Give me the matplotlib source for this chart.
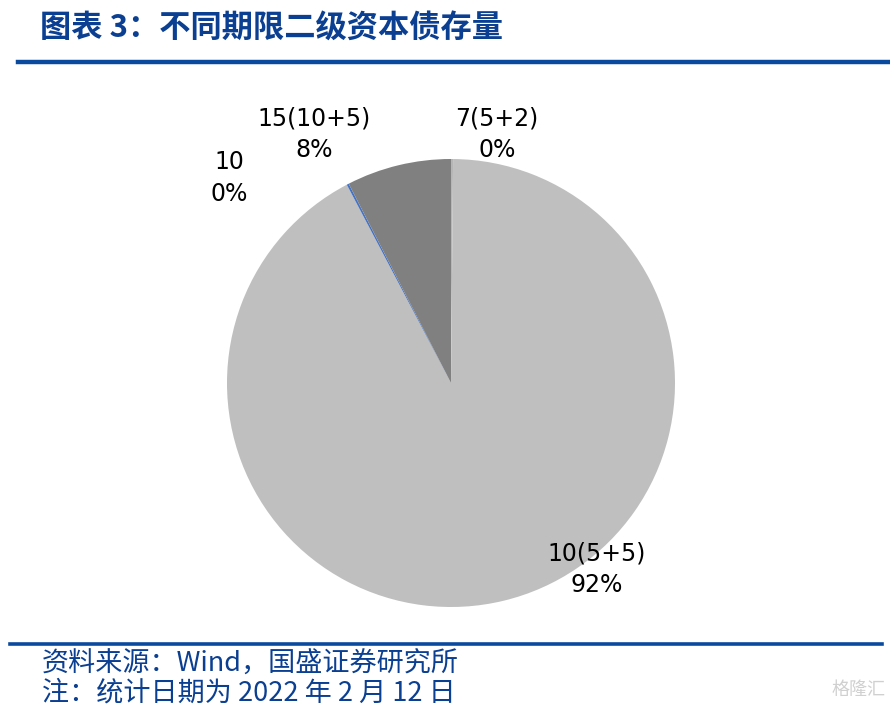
import matplotlib.pyplot as plt
import numpy as np

plt.rcParams['font.family'] = ['Noto Sans CJK SC', 'DejaVu Sans']

# data (share of outstanding tier-2 capital bonds by term)
labels = ["7(5+2)", "10(5+5)", "10", "15(10+5)"]
values = [0.15, 92.15, 0.15, 7.55]
pct_text = ["0%", "92%", "0%", "8%"]
colors = ["#B5B5B5", "#BFBFBF", "#4472C4", "#808080"]

# where each label sits (pie radius = 1)
label_xy = [(0.205, 1.11), (0.652, -0.83), (-0.99, 0.915), (-0.61, 1.11)]

title = "图表 3：不同期限二级资本债存量"
source = "资料来源：Wind，国盛证券研究所"
note = "注：统计日期为 2022 年 2 月 12 日"

blue = "#0B3F91"

fig = plt.figure(figsize=(8.9, 7.09), dpi=100)

# pie axes: centre at (451, 383) px, radius 224 px
W, H = 890, 709
lim = 1.3
side = 2 * lim * 224
cx, cy = 451, 383
ax = fig.add_axes([(cx - side / 2) / W, (H - cy - side / 2) / H, side / W, side / H])
ax.pie(values, colors=colors, startangle=90, counterclock=False,
       wedgeprops=dict(linewidth=0))
ax.set_xlim(-lim, lim)
ax.set_ylim(-lim, lim)
ax.set_aspect("equal")
ax.axis("off")

for lab, pct, (x, y) in zip(labels, pct_text, label_xy):
    ax.text(x, y, f"{lab}\n{pct}", ha="center", va="center", fontsize=17,
            family="DejaVu Sans", linespacing=1.38, color="black", clip_on=False)

# header / footer
fig.text(40 / W, 1 - 28 / H, title, fontsize=22.5, fontweight="bold", color=blue,
         ha="left", va="center")
fig.add_artist(plt.Line2D([18 / W, 1.0], [1 - 62 / H] * 2, color="#0A4A9E", lw=3.2))
fig.add_artist(plt.Line2D([10 / W, 882 / W], [1 - 644 / H] * 2, color="#0A4A9E", lw=2.6))
fig.text(42 / W, 1 - 664 / H, source, fontsize=19.5, style="italic", color=blue,
         ha="left", va="center")
fig.text(42 / W, 1 - 693 / H, note, fontsize=19.5, style="italic", color=blue,
         ha="left", va="center")
fig.text(886 / W, 1 - 690 / H, "格隆汇", fontsize=13, color="#D0D0D0",
         ha="right", va="center")

fig.savefig("out.png", dpi=100)
